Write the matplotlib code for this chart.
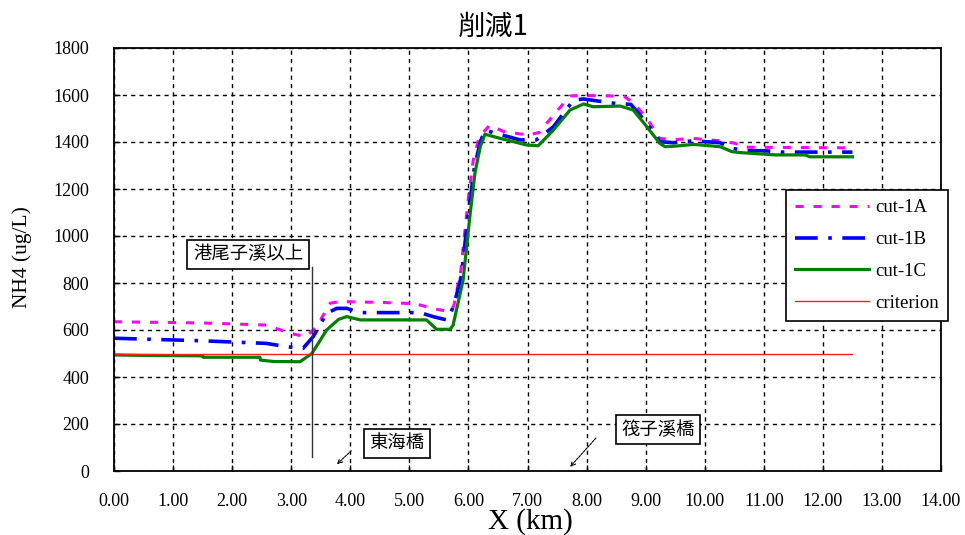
import matplotlib
matplotlib.use("Agg")
import matplotlib.pyplot as plt
import numpy as np

# data (x in km, NH4 in ug/L)
x_1a = [0, 1.5, 2.58, 2.98, 3.25, 3.43, 3.66, 3.83, 4.56, 5.1, 5.39, 5.67, 5.75, 5.87,
        5.98, 6.08, 6.18, 6.36, 6.59, 6.99, 7.2, 7.44, 7.72, 7.95, 8.63, 8.8, 9.02,
        9.24, 9.47, 9.81, 10.26, 10.5, 10.7, 12.5]
y_1a = [635, 630, 621, 586, 571, 614, 714, 721, 717, 712, 692, 678, 700, 850,
        1120, 1320, 1420, 1472, 1445, 1430, 1440, 1515, 1596, 1598, 1595, 1565, 1500,
        1415, 1410, 1415, 1405, 1395, 1378, 1375]

x_1b = [0, 1.5, 2.58, 2.92, 3.2, 3.37, 3.6, 3.77, 3.94, 4.16, 5.18, 5.4, 5.63, 5.75,
        5.88, 6.0, 6.1, 6.2, 6.28, 6.87, 7.15, 7.44, 7.78, 7.95, 8.46, 8.75, 9.02,
        9.24, 9.47, 9.81, 10.26, 10.46, 10.7, 11.0, 11.3, 12.5]
y_1b = [565, 554, 543, 529, 522, 571, 671, 692, 692, 674, 674, 657, 643, 700,
        830, 1100, 1290, 1400, 1450, 1409, 1409, 1465, 1579, 1583, 1565, 1560, 1480,
        1401, 1397, 1405, 1397, 1373, 1363, 1363, 1357, 1357]

x_1c = [0, 0.45, 1.5, 1.51, 2.47, 2.48, 2.7, 3.15, 3.35, 3.6, 3.8, 3.94, 4.17, 5.29,
        5.46, 5.69, 5.74, 5.91, 6.03, 6.11, 6.2, 6.28, 6.53, 6.99, 7.18, 7.44, 7.72,
        7.95, 8.11, 8.57, 8.79, 9.02, 9.24, 9.33, 9.53, 9.81, 10.26, 10.46, 10.6,
        11.2, 11.7, 11.78, 12.5]
y_1c = [494, 492, 490, 484, 484, 472, 466, 465, 500, 600, 645, 657, 643, 643,
        603, 603, 620, 813, 1097, 1267, 1380, 1433, 1416, 1387, 1384, 1451, 1536,
        1562, 1550, 1553, 1536, 1465, 1394, 1380, 1383, 1390, 1380, 1359, 1355,
        1345, 1345, 1337, 1337]

x_crit = [0, 12.5]
y_crit = [500, 500]

serif = "Liberation Serif"
cjk = ["Noto Sans CJK TC", "DejaVu Sans"]

fig = plt.figure(figsize=(9.65, 5.35), dpi=100)
ax = fig.add_axes([114 / 965, 64 / 535, 827 / 965, 423 / 535])

ax.plot(x_1a, y_1a, color="#ff00ff", lw=2.2, linestyle=(0, (2.6, 3.3)), label="cut-1A")
ax.plot(x_1b, y_1b, color="#0000ff", lw=2.6, linestyle=(0, (6.3, 2.9, 1.0, 2.9)), label="cut-1B")
ax.plot(x_1c, y_1c, color="#008000", lw=2.3, label="cut-1C")
ax.plot(x_crit, y_crit, color="#ff2020", lw=1.0, label="criterion")

ax.set_xlim(0, 14)
ax.set_ylim(0, 1800)
ax.set_xticks(np.arange(0, 15, 1))
ax.set_xticklabels([f"{v:.2f}" for v in range(15)])
ax.set_yticks(np.arange(0, 1801, 200))
ax.tick_params(direction="in", length=4, width=1, color="black")
ax.tick_params(axis="x", pad=16)
ax.tick_params(axis="y", pad=18)
for lab in ax.get_xticklabels() + ax.get_yticklabels():
    lab.set_fontfamily(serif)
    lab.set_fontsize(13)
ax.grid(True, color="black", linestyle=(0, (3, 3)), lw=1.0)
ax.set_axisbelow(True)
for sp in ax.spines.values():
    sp.set_linewidth(1.3)
    sp.set_color("black")

# annotations
ax.plot([3.35, 3.35], [60, 866], color="#333333", lw=1.0)
box = dict(boxstyle="square,pad=0.3", facecolor="white", edgecolor="black", lw=1.2)
ax.text(2.27, 923, "港尾子溪以上", family=cjk, fontsize=13.2, ha="center", va="center", bbox=box)
ax.text(4.79, 119, "東海橋", family=cjk, fontsize=13.2, ha="center", va="center", bbox=box)
ax.text(9.21, 176, "筏子溪橋", family=cjk, fontsize=13.2, ha="center", va="center", bbox=box)
arr = dict(arrowstyle="->", color="black", lw=0.8, linestyle=(0, (2, 1)), mutation_scale=8)
ax.annotate("", xy=(3.74, 21), xytext=(4.05, 94), arrowprops=arr)
ax.annotate("", xy=(7.69, 9), xytext=(8.19, 149), arrowprops=arr)

leg = ax.legend(loc="upper left", bbox_to_anchor=(786 / 965, 1 - 190 / 535),
                bbox_transform=fig.transFigure, borderaxespad=0, fancybox=False,
                edgecolor="black", framealpha=1, handlelength=3.9, handletextpad=0.35,
                labelspacing=0.78, borderpad=0.5, prop={"family": serif, "size": 13.5})
leg.get_frame().set_linewidth(1.2)

fig.text(493 / 965, 1 - 27 / 535, "削減1", family=cjk, fontsize=20,
         ha="center", va="center")
fig.text(22 / 965, 1 - 257 / 535, "NH4 (ug/L)", family=serif, fontsize=15.5,
         rotation=90, ha="center", va="center")
fig.text(530 / 965, 1 - 522 / 535, "X (km)", family=serif, fontsize=21,
         ha="center", va="center")

fig.savefig("out.png", dpi=100)
